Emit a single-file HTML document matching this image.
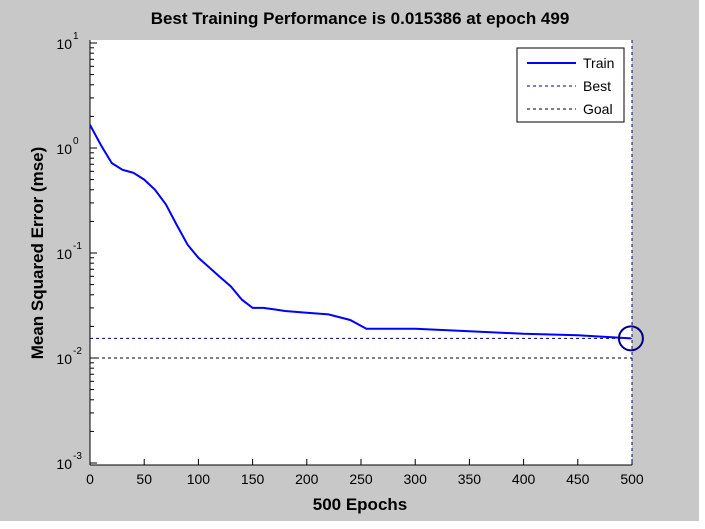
<!DOCTYPE html>
<html><head><meta charset="utf-8"><style>
body{margin:0;background:#fff}
svg{display:block;font-family:"Liberation Sans",Arial,sans-serif}
</style></head><body>
<svg width="705" height="529" viewBox="0 0 705 529">
<rect x="0" y="0" width="699" height="521" fill="#c8c8c8"/>
<rect x="90" y="40" width="542" height="425" fill="#fff"/>
<text x="360" y="24" text-anchor="middle" font-size="17" font-weight="bold">Best Training Performance is 0.015386 at epoch 499</text>
<text x="360" y="510" text-anchor="middle" font-size="17" font-weight="bold">500 Epochs</text>
<text transform="translate(43,253) rotate(-90)" text-anchor="middle" font-size="17" font-weight="bold">Mean Squared Error  (mse)</text>
<g id="axes"></g>
<g id="marks"></g>
<g>
<rect x="517" y="48" width="107" height="74" fill="#fff" stroke="#000" stroke-width="1"/>
<line x1="527" y1="63" x2="576" y2="63" stroke="#0000ff" stroke-width="2"/>
<text x="583" y="68" font-size="14">Train</text>
<line x1="527" y1="86" x2="576" y2="86" stroke="#00007f" stroke-dasharray="3,3"/>
<text x="583" y="91" font-size="14">Best</text>
<line x1="527" y1="109" x2="576" y2="109" stroke="#000" stroke-dasharray="3,3"/>
<text x="583" y="114" font-size="14">Goal</text>
</g>
</svg>
<script>
const epochs=[0,10,20,30,40,50,60,70,80,90,100,110,120,130,140,150,160,170,180,200,220,240,255,270,300,350,400,450,499];
const trainMse=[1.66,1.07,0.72,0.62,0.58,0.50,0.40,0.29,0.185,0.12,0.09,0.073,0.059,0.048,0.036,0.030,0.030,0.029,0.028,0.027,0.026,0.023,0.019,0.019,0.019,0.018,0.017,0.0165,0.015386];
const bestEpoch=499;
const bestValue=0.015386;
const goalValue=0.01;
const xTicks=[0,50,100,150,200,250,300,350,400,450,500];
const yDecades=[-3,-2,-1,0,1];
const NS='http://www.w3.org/2000/svg';
const X=v=>90+v*(542/500);
const Y=v=>148-Math.log10(v)*105;
function mk(t,a,p){const e=document.createElementNS(NS,t);for(const k in a)e.setAttribute(k,a[k]);p.appendChild(e);return e;}
const ax=document.getElementById('axes'),mg=document.getElementById('marks');
// axis lines
let l=mk('line',{x1:90,y1:40,x2:90,y2:465,stroke:'#000'},ax);


l=mk('line',{x1:90,y1:465,x2:632,y2:465,stroke:'#000'},ax);


xTicks.forEach(t=>{
 mk('line',{x1:X(t),y1:465,x2:X(t),y2:459,stroke:'#000'},ax);
 const tx=mk('text',{x:X(t),y:484,'text-anchor':'middle','font-size':14},ax);
 tx.textContent=t;
 
 
});
yDecades.forEach(d=>{
 const y=Y(Math.pow(10,d));
 mk('line',{x1:90,y1:y,x2:97,y2:y,stroke:'#000'},ax);
 if(d<1)for(let m=2;m<10;m++){const ym=Y(m*Math.pow(10,d));mk('line',{x1:90,y1:ym,x2:94,y2:ym,stroke:'#000'},ax);}
 const tx=mk('text',{x:72,y:y+6,'text-anchor':'end','font-size':14},ax);
 tx.textContent='10';
 
 
 const sp=mk('text',{x:73,y:y-4,'font-size':10},ax);
 sp.textContent=d;
});
// goal & best
l=mk('line',{x1:90,y1:Y(goalValue),x2:632,y2:Y(goalValue),stroke:'#000','stroke-dasharray':'3,3'},mg);


l=mk('line',{x1:90,y1:Y(bestValue),x2:632,y2:Y(bestValue),stroke:'#00007f','stroke-dasharray':'3,3'},mg);


l=mk('line',{x1:X(bestEpoch+1),y1:40,x2:X(bestEpoch+1),y2:465,stroke:'#00007f','stroke-dasharray':'3,3'},mg);


const pts=epochs.map((e,i)=>X(e).toFixed(1)+','+Y(trainMse[i]).toFixed(1)).join(' ');
l=mk('polyline',{points:pts,fill:'none',stroke:'#0000ff','stroke-width':2},mg);


l=mk('circle',{cx:X(bestEpoch),cy:Y(bestValue),r:12,fill:'none',stroke:'#00007f','stroke-width':2},mg);


</script>
</body></html>
